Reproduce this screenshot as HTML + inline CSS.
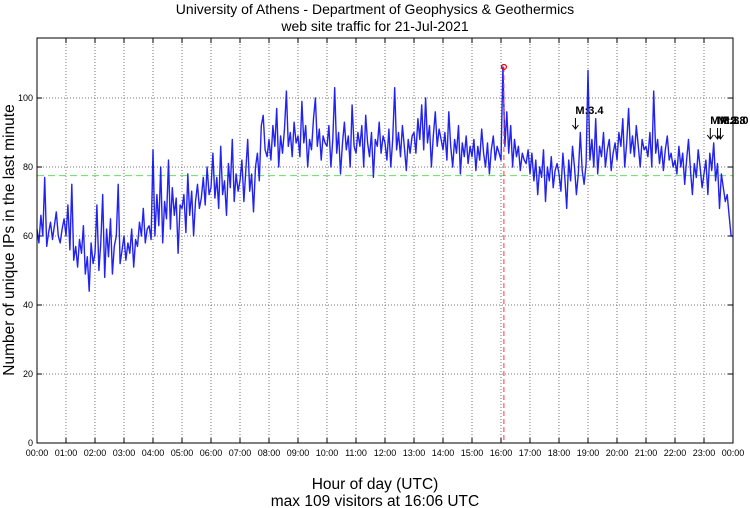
<!DOCTYPE html>
<html><head><meta charset="utf-8"><style>
html,body{margin:0;padding:0;background:#fff;}
svg{display:block;font-family:"Liberation Sans",sans-serif;}
</style></head><body>
<svg id="chart" width="750" height="508" viewBox="0 0 750 508">
<text x="375" y="14" text-anchor="middle" font-size="14">University of Athens - Department of Geophysics &amp; Geothermics</text>
<text x="375" y="31" text-anchor="middle" font-size="14">web site traffic for 21-Jul-2021</text>
<text x="375" y="489" text-anchor="middle" font-size="15.5">Hour of day (UTC)</text>
<text x="375" y="506" text-anchor="middle" font-size="15.5">max 109 visitors at 16:06 UTC</text>
<text transform="translate(14,240) rotate(-90)" text-anchor="middle" font-size="15.5">Number of unique IPs in the last minute</text>
<g id="grid"></g>
<g id="marks"></g>
<rect x="37" y="38" width="696" height="405" fill="none" stroke="#000" stroke-width="1"/>
</svg>
<script>
const hourLabels=["00:00","01:00","02:00","03:00","04:00","05:00","06:00","07:00","08:00","09:00","10:00","11:00","12:00","13:00","14:00","15:00","16:00","17:00","18:00","19:00","20:00","21:00","22:00","23:00","00:00"];
const yTicks=[0,20,40,60,80,100];
const stepMinutes=4;
const visitors=[
62,58,66,60,77,57,61,64,59,63,67,60,58,62,65,
60,69,56,75,53,57,51,59,55,63,49,54,44,58,52,
55,69,50,58,72,48,62,54,65,49,57,60,75,52,56,
60,53,58,55,62,51,59,57,64,60,68,58,62,63,59,
85,60,72,63,80,58,70,65,82,62,74,66,71,55,69,
68,72,61,78,66,73,60,70,75,68,71,77,69,80,72,
74,84,71,77,68,86,72,76,66,81,74,88,70,78,73,
76,82,70,79,88,73,78,67,80,84,76,92,95,85,83,
88,82,92,86,97,80,89,84,91,102,86,90,83,93,87,
89,83,99,87,92,80,88,85,94,100,86,91,82,89,87,
86,92,80,88,103,84,90,78,87,93,85,89,80,98,86,
84,90,86,92,80,95,87,83,90,77,88,86,93,84,89,
87,82,91,80,88,103,85,90,83,92,86,79,88,84,89,
90,84,94,88,98,85,100,87,92,80,89,96,86,91,88,
85,90,82,96,86,80,88,84,92,78,87,83,89,81,86,
83,88,79,86,82,91,84,80,87,78,85,89,82,86,84,
82,109,86,96,84,92,80,88,83,86,79,84,82,81,85,
78,84,76,82,72,80,77,85,70,80,76,83,74,79,81,
78,73,84,77,68,82,76,86,80,72,78,90,79,75,81,
108,82,88,80,94,78,86,83,90,80,85,88,79,84,87,
82,90,86,94,80,87,97,84,89,83,92,86,80,88,85,
86,83,90,80,102,84,88,81,86,79,85,89,82,84,80,
82,78,86,80,84,75,82,88,79,72,81,77,85,80,74,
78,82,72,84,79,87,76,81,68,78,74,70,72,66,60,
60];
const averageValue=77.5;
const maxValue=109;
const maxMinute=966;
const quakeLabels=["M:3.4","M:3.1","M:2.8","M:3.0"];
const quakeMinutes=[1114,1393,1408,1414];

const X0=37,X1=733,Y0=443,YT=38,YMAX=117.4;
const xs=m=>X0+(X1-X0)*m/1440;
const ys=v=>Y0-(Y0-YT)*v/YMAX;
const NS="http://www.w3.org/2000/svg";
function mk(tag,attrs,parent){const e=document.createElementNS(NS,tag);for(const k in attrs)e.setAttribute(k,attrs[k]);parent.appendChild(e);return e;}
const grid=document.getElementById('grid'),marks=document.getElementById('marks');

hourLabels.forEach((lab,i)=>{
  const x=xs(i*60);
  if(i>0&&i<24){
    const g=mk('line',{x1:x,x2:x,y1:YT,y2:Y0,stroke:'#777','stroke-dasharray':'1,2'},grid);
    
    
  }
  mk('line',{x1:x,x2:x,y1:Y0,y2:Y0-5,stroke:'#000'},grid);
  mk('line',{x1:x,x2:x,y1:YT,y2:YT+5,stroke:'#000'},grid);
  const t=mk('text',{x:x,y:Y0+13,'text-anchor':'middle','font-size':9},grid);
  t.textContent=lab;
  
  
});
yTicks.forEach(v=>{
  const y=ys(v);
  if(v>0){
    const g=mk('line',{x1:X0,x2:X1,y1:y,y2:y,stroke:'#777','stroke-dasharray':'1,2'},grid);
    
    
  }
  mk('line',{x1:X0,x2:X0+5,y1:y,y2:y,stroke:'#000'},grid);
  mk('line',{x1:X1,x2:X1-5,y1:y,y2:y,stroke:'#000'},grid);
  const t=mk('text',{x:X0-4,y:y+3,'text-anchor':'end','font-size':9},grid);
  t.textContent=v;
  
  
});

const avg=mk('line',{x1:X0,x2:X1,y1:ys(averageValue),y2:ys(averageValue),stroke:'#6d6','stroke-dasharray':'7,4'},marks);



const pts=visitors.map((v,i)=>xs(i*stepMinutes).toFixed(1)+','+ys(v).toFixed(1)).join(' ');
const ln=mk('polyline',{points:pts,fill:'none',stroke:'#0a0af0','stroke-width':1.4,'stroke-opacity':0.9,'stroke-linejoin':'round'},marks);



const mx=xs(maxMinute);
const rl=mk('line',{x1:mx,x2:mx,y1:ys(maxValue),y2:Y0,stroke:'#f33','stroke-dasharray':'5,3'},marks);


const rc=mk('circle',{cx:mx,cy:ys(maxValue),r:2.5,fill:'none',stroke:'#e00','stroke-width':1.2},marks);



quakeMinutes.forEach((m,i)=>{
  const x=xs(m);
  const first=i===0;
  const ay=first?129:139;
  const a=mk('path',{d:`M${x},${ay-11} V${ay} M${x-3},${ay-4} L${x},${ay} L${x+3},${ay-4}`,fill:'none',stroke:'#000','stroke-width':1},marks);
  
  
  const t=mk('text',{x:x,y:first?114:124,'font-size':11,'font-weight':'bold'},marks);
  t.textContent=quakeLabels[i];
  
  
});
</script>
</body></html>
